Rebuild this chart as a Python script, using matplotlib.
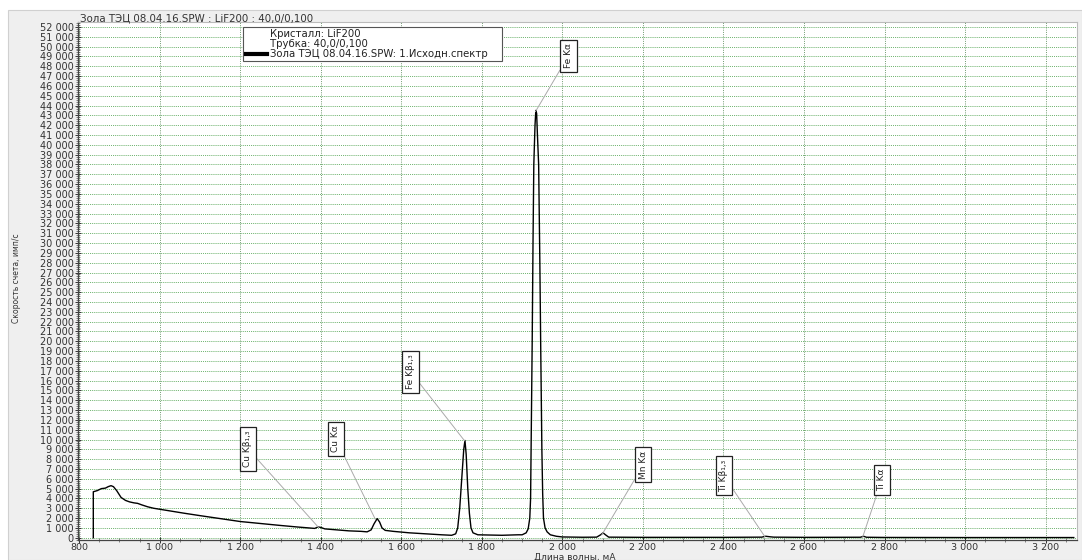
import matplotlib
matplotlib.use("Agg")
import matplotlib.pyplot as plt
from matplotlib.lines import Line2D
from matplotlib.patches import Rectangle
from matplotlib.ticker import MultipleLocator, FuncFormatter

# ---- data ----
wavelength = [835, 835, 845, 855, 865, 872, 879, 885, 893, 904, 915, 925, 936, 945, 955, 970,
              985, 1000, 1030, 1060, 1100, 1150, 1200, 1250, 1300, 1340, 1370, 1385, 1393,
              1400, 1410, 1440, 1470, 1500, 1515, 1525, 1532, 1540, 1546, 1552, 1560, 1580,
              1620, 1660, 1700, 1725, 1735, 1740, 1745, 1750, 1755, 1758, 1761, 1765, 1769,
              1773, 1778, 1790, 1850, 1890, 1900, 1910, 1915, 1919, 1921, 1923, 1925, 1927,
              1929, 1932, 1934, 1936, 1938, 1941, 1944, 1946, 1949, 1951, 1953, 1957, 1962,
              1970, 1985, 2000, 2050, 2085, 2095, 2101, 2107, 2115, 2200, 2300, 2400, 2495,
              2505, 2515, 2525, 2600, 2740, 2748, 2755, 2800, 3000, 3270]
intensity = [0, 4680, 4800, 5000, 5050, 5200, 5300, 5200, 4800, 4100, 3800, 3650, 3550, 3500,
             3350, 3150, 3000, 2900, 2700, 2500, 2250, 1950, 1650, 1450, 1250, 1100, 1000, 950,
             1100, 1050, 900, 800, 700, 650, 600, 800, 1400, 1950, 1600, 1000, 750, 650, 500,
             400, 300, 250, 400, 1000, 3000, 6000, 9000, 9900, 8500, 5000, 2500, 1000, 500,
             300, 250, 300, 300, 500, 900, 2000, 4000, 12000, 20000, 30000, 38000, 42000,
             43500, 43200, 41000, 38000, 28000, 20000, 9000, 4500, 2000, 1000, 600, 300, 150,
             80, 50, 60, 300, 500, 300, 60, 40, 40, 40, 60, 150, 100, 60, 40, 50, 150, 50, 30,
             20, 20]

peak_labels = ["Cu Kβ₁,₃", "Cu Kα", "Fe Kβ₁,₃", "Fe Kα", "Mn Kα", "Ti Kβ₁,₃", "Ti Kα"]
peak_x = [1395, 1536, 1757, 1933, 2098, 2503, 2746]
peak_y = [1020, 1830, 9870, 43370, 300, 100, 100]
label_x = [1219, 1437, 1623, 2015, 2201, 2401, 2793]
label_y = [9060, 10080, 16900, 49070, 7430, 6310, 5900]

title = "Зола ТЭЦ 08.04.16.SPW : LiF200 : 40,0/0,100"
legend_lines = ["Кристалл: LiF200", "Трубка: 40,0/0,100",
                "Зола ТЭЦ 08.04.16.SPW: 1.Исходн.спектр"]
xlabel = "Длина волны, мА"
ylabel = "Скорость счета, имп/с"

# ---- figure ----
W, H = 1082, 560
fig = plt.figure(figsize=(W / 100, H / 100), dpi=100, facecolor="white")
fig.patches.append(Rectangle((8 / W, 0), 1 - 8 / W, 1 - 10 / H, transform=fig.transFigure,
                             facecolor="#efefef", edgecolor="#d0d0d0", lw=0.8, zorder=-10))

ax = fig.add_axes([78 / W, 20 / H, (1077 - 78) / W, (540 - 22) / H])
ax.set_facecolor("white")
ax.plot(wavelength, intensity, color="black", lw=1.0, zorder=3)

ax.set_xlim(797, 3278)
ax.set_ylim(-230, 52500)

ax.xaxis.set_major_locator(MultipleLocator(200))
ax.xaxis.set_minor_locator(MultipleLocator(50))
ax.yaxis.set_major_locator(MultipleLocator(1000))
ax.yaxis.set_minor_locator(MultipleLocator(200))
fmt = FuncFormatter(lambda v, p: f"{int(round(v)):,}".replace(",", " "))
ax.xaxis.set_major_formatter(fmt)
ax.yaxis.set_major_formatter(fmt)

ax.tick_params(axis="both", which="major", labelsize=7, colors="#333333",
               direction="inout", length=4, width=0.7, pad=1)
ax.tick_params(axis="x", which="major", labelsize=6.8, pad=0)
ax.tick_params(axis="both", which="minor", direction="inout", length=2.5, width=0.5,
               colors="#555555")

ax.grid(True, which="major", axis="y", color="#3f9a3f", linestyle=(0, (1, 1.3)), lw=0.6,
        zorder=0)
ax.grid(True, which="major", axis="x", color="#6f9a6f", linestyle=(0, (1, 1.3)), lw=0.7,
        zorder=0)

for s in ["left", "bottom"]:
    ax.spines[s].set_color("#444444")
    ax.spines[s].set_linewidth(0.9)
for s in ["top", "right"]:
    ax.spines[s].set_color("#bbbbbb")
    ax.spines[s].set_linewidth(0.8)

fig.text(80 / W, 1 - 18 / H, title, fontsize=7.4, color="#333333", ha="left", va="center")
fig.text(575 / W, 1 - 557 / H, xlabel, fontsize=6.5, color="#333333", ha="center",
         va="center")
fig.text(17 / W, 1 - 278 / H, ylabel, fontsize=5.5, color="#333333", ha="center",
         va="center", rotation=90)

# legend box drawn by hand to keep the tight layout of the original
fig.patches.append(Rectangle((243 / W, 1 - 61 / H), (502 - 243) / W, 34 / H,
                             transform=fig.transFigure, facecolor="white",
                             edgecolor="#555555", lw=0.8, zorder=5))
for i, txt in enumerate(legend_lines):
    fig.text(270 / W, 1 - (34 + 10 * i) / H, txt, fontsize=7.3, color="#222222",
             ha="left", va="center", zorder=6)
fig.lines.append(Line2D([246 / W, 267 / W], [1 - 54 / H, 1 - 54 / H],
                        transform=fig.transFigure, color="black", lw=3, zorder=6))

for lab, px, py, lx, ly in zip(peak_labels, peak_x, peak_y, label_x, label_y):
    ax.annotate(lab, xy=(px, py), xytext=(lx, ly), rotation=90, fontsize=6.5,
                ha="center", va="center", color="#222222", zorder=5,
                bbox=dict(boxstyle="square,pad=0.4", fc="white", ec="#222222", lw=0.9),
                arrowprops=dict(arrowstyle="-", color="#aaaaaa", lw=0.7,
                                shrinkA=0, shrinkB=0))

fig.savefig("out.png", dpi=100)
